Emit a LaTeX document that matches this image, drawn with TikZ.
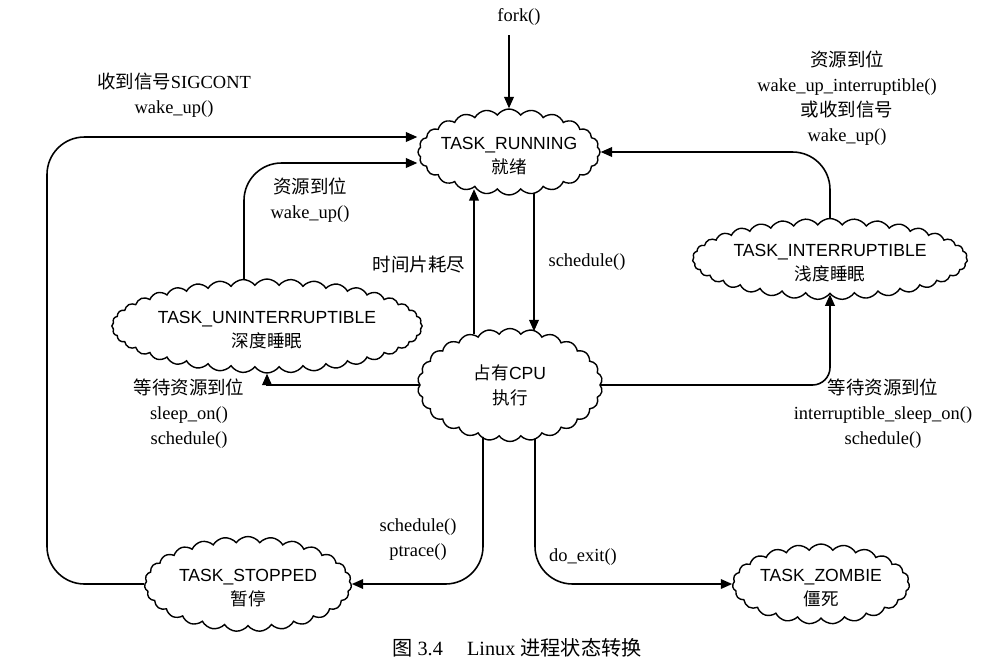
\documentclass[tikz,border=0pt]{standalone}
\usepackage{fontspec}
\setmainfont{Liberation Serif}
\setsansfont{Liberation Sans}
\newfontfamily\cjk{Noto Sans CJK SC}
\usetikzlibrary{shapes.symbols,arrows.meta,positioning}

\begin{document}
\begin{tikzpicture}[x=0.02cm, y=-0.02cm,
  stato/.style={cloud, draw, line width=0.8pt, cloud ignores aspect, cloud puff arc=110, inner sep=0pt, align=center, font=\sffamily\fontsize{10}{14.2}\selectfont, text height=25pt, text depth=0pt},
  lab/.style={align=center, font=\fontsize{10.5}{14.2}\selectfont},
  freccia/.style={-{Triangle[length=6.5pt,width=5.5pt]}, line width=0.9pt},
  curva/.style={freccia, rounded corners=0.75cm}]
\useasboundingbox (0,0) rectangle (998,670);

% stati
\node[stato, cloud puffs=24, inner xsep=-0.2cm, minimum width=3.64cm, minimum height=1.72cm] (run) at (509,152) {TASK\_RUNNING\\{\cjk 就绪}};
\node[stato, cloud puffs=26, minimum width=3.7cm, minimum height=2.26cm, text height=23pt, text depth=1.2pt] (cpu) at (510,385) {{\cjk 占有}CPU\\{\cjk 执行}};
\node[stato, cloud puffs=40, minimum width=6.2cm, minimum height=1.88cm] (unint) at (267,326) {TASK\_UNINTERRUPTIBLE\\{\cjk 深度睡眠}};
\node[stato, cloud puffs=35, minimum width=5.5cm, minimum height=1.62cm] (intr) at (830,259) {TASK\_INTERRUPTIBLE\\{\cjk 浅度睡眠}};
\node[stato, cloud puffs=27, minimum width=4.14cm, minimum height=1.9cm] (stop) at (248,584) {TASK\_STOPPED\\{\cjk 暂停}};
\node[stato, cloud puffs=23, minimum width=3.54cm, minimum height=1.6cm] (zomb) at (821,584) {TASK\_ZOMBIE\\{\cjk 僵死}};

% transizioni
\coordinate (forkin) at (509,35);
\draw[freccia] (forkin) -- (run);
\draw[curva] (stop.west) -| (47,137) -- (run.west |- 0,137);
\draw[curva] (unint.118 -| 244,0) |- (run.west |- 0,163);
\draw[curva] (intr.north) |- (run.east);
\draw[freccia] (cpu.128 -| 474,0) -- (run.225 -| 474,0);
\draw[freccia] (run.305 -| 534,0) -- (cpu.63 -| 534,0);
\draw[freccia] (cpu.west) -| (unint.south);
\draw[freccia, rounded corners=0.35cm] (cpu.east) -| (intr.south);
\draw[curva] (cpu.240 -| 483,0) |- (stop.east);
\draw[curva] (cpu.297 -| 535,0) |- (zomb.west);

% etichette
\node[lab] (fork) at (519,17) {fork()};
\node[lab] (sigcont) at (174,95) {{\cjk 收到信号}SIGCONT\\wake\_up()};
\node[lab] (risorsa) at (310,200) {{\cjk 资源到位}\\wake\_up()};
\node[lab] (quanto) at (419,265) {\cjk 时间片耗尽};
\node[lab] (sched) at (587,262) {schedule()};
\node[lab] (risveglio) at (847,98) {{\cjk 资源到位}\\wake\_up\_interruptible()\\{\cjk 或收到信号}\\wake\_up()};
\node[lab] (attesa) at (189,414) {{\cjk 等待资源到位}\\sleep\_on()\\schedule()};
\node[lab] (attesaint) at (883,414) {{\cjk 等待资源到位}\\interruptible\_sleep\_on()\\schedule()};
\node[lab] (traccia) at (418,540) {schedule()\\ptrace()};
\node[lab] (uscita) at (583,557) {do\_exit()};
\node[font=\fontsize{11.5}{14}\selectfont] (didasc) at (517,648) {{\cjk 图} 3.4\hspace{1.2em}Linux {\cjk 进程状态转换}};
\end{tikzpicture}
\end{document}
